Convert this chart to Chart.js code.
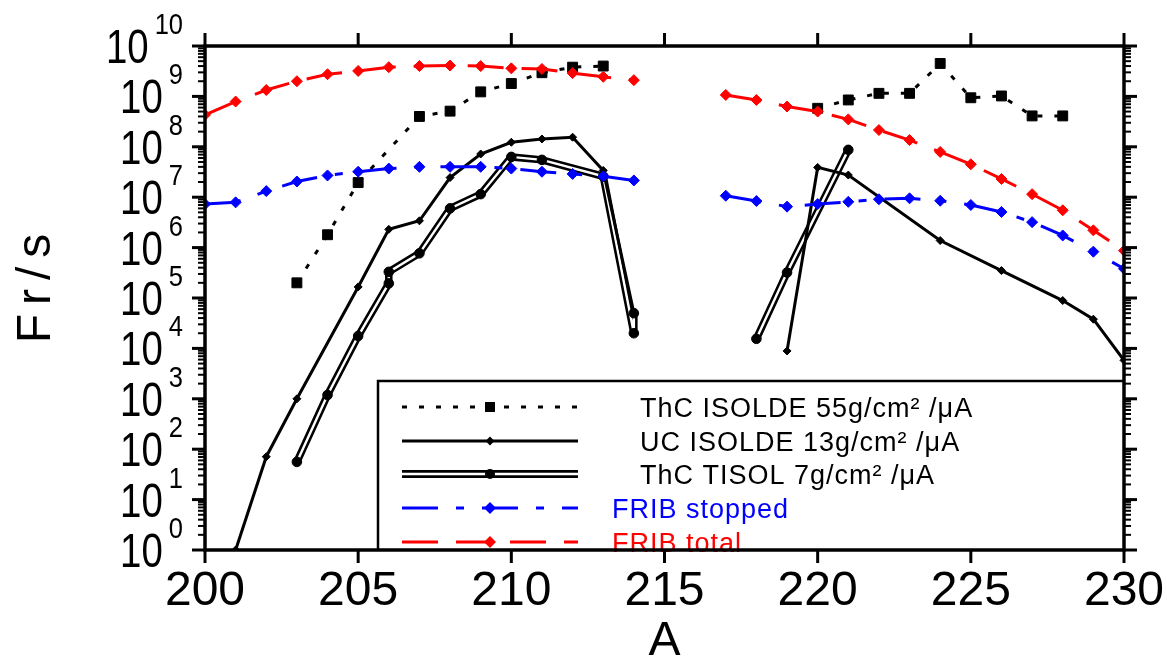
<!DOCTYPE html>
<html>
<head>
<meta charset="utf-8">
<script src="https://cdn.jsdelivr.net/npm/chart.js@4.4.0/dist/chart.umd.min.js"></script>
<style>
  html, body { margin: 0; padding: 0; background: #fff; }
  #wrap { width: 1167px; height: 656px; }
</style>
</head>
<body>
<div id="wrap"><canvas id="chart" width="1167" height="656"></canvas></div>
<script>
// ============================================================
//  Data (A = mass number, values in Fr/s)
// ============================================================
const thcIsoldeA1 = [203, 204, 205, 207, 208, 209, 210, 211, 212, 213];
const thcIsolde1  = [2.0e5, 1.8e6, 1.95e7, 4.0e8, 5.1e8, 1.23e9, 1.8e9, 2.95e9, 3.8e9, 4.0e9];
const thcIsoldeA2 = [220, 221, 222, 223, 224, 225, 226, 227, 228];
const thcIsolde2  = [5.8e8, 8.5e8, 1.15e9, 1.15e9, 4.5e9, 9.4e8, 1.02e9, 4.1e8, 4.1e8];

const ucIsoldeA1 = [201, 202, 203, 205, 206, 207, 208, 209, 210, 211, 212, 213, 214];
const ucIsolde1  = [1, 71, 1000, 1.66e5, 2.3e6, 3.4e6, 2.45e7, 7.2e7, 1.23e8, 1.43e8, 1.55e8, 3.4e7, 5.0e4];
const ucIsoldeA2 = [219, 220, 221, 224, 226, 228, 229, 230];
const ucIsolde2  = [8.9e3, 3.9e7, 2.75e7, 1.38e6, 3.5e5, 8.9e4, 3.8e4, 5.8e3];

const tisolA1 = [203, 204, 205, 206, 206, 207, 208, 209, 210, 211, 213, 214, 214];
const tisol1  = [56, 1190, 1.76e4, 1.95e5, 3.3e5, 7.7e5, 6.0e6, 1.15e7, 6.3e7, 5.5e7, 2.6e7, 2.0e4, 5.0e4];
const tisolA2 = [218, 219, 221];
const tisol2  = [1.55e4, 3.2e5, 8.7e7];

const fribA1       = [200, 201, 202, 203, 204, 205, 206, 207, 208, 209, 210, 211, 212, 213, 214];
const fribStopped1 = [7.3e6, 7.9e6, 1.32e7, 2.05e7, 2.7e7, 3.2e7, 3.7e7, 4.0e7, 4.0e7, 4.0e7, 3.7e7, 3.2e7, 2.9e7, 2.6e7, 2.15e7];
const fribTotal1   = [4.3e8, 7.9e8, 1.34e9, 2.0e9, 2.75e9, 3.2e9, 3.8e9, 4.0e9, 4.1e9, 4.0e9, 3.6e9, 3.5e9, 2.9e9, 2.45e9, 2.1e9];
const fribA2       = [217, 218, 219, 220, 221, 222, 223, 224, 225, 226, 227, 228, 229, 230];
const fribStopped2 = [1.07e7, 8.4e6, 6.5e6, 7.3e6, 8.1e6, 9.1e6, 9.5e6, 8.5e6, 7.0e6, 5.1e6, 3.2e6, 1.74e6, 8.3e5, 3.8e5];
const fribTotal2   = [1.07e9, 8.5e8, 6.3e8, 5.0e8, 3.5e8, 2.15e8, 1.36e8, 7.9e7, 4.5e7, 2.3e7, 1.15e7, 5.5e6, 2.2e6, 8.7e5];

const seriesNames = [
    'ThC ISOLDE 55g/cm\u00B2 /\u03BCA',
    'UC ISOLDE 13g/cm\u00B2 /\u03BCA',
    'ThC TISOL 7g/cm\u00B2 /\u03BCA',
    'FRIB stopped',
    'FRIB total'
];

const xTicks = [200, 205, 210, 215, 220, 225, 230];
const yExponents = [0, 1, 2, 3, 4, 5, 6, 7, 8, 9, 10];

const FONT = '"Liberation Sans", Arial, sans-serif';
const RED = '#ff0000';
const BLUE = '#0000ff';

// ============================================================
//  Helpers
// ============================================================
function pts(xs, ys) {
    return xs.map((a, i) => ({ x: a, y: ys[i] }));
}

function fribSet(data, color, dash) {
    return {
        data, borderColor: color, borderWidth: 3, borderDash: dash,
        pointStyle: 'rectRot', pointRadius: 5.5, pointBackgroundColor: color,
        pointBorderColor: color, pointBorderWidth: 1, order: color === RED ? 1 : 2
    };
}

function thcSet(data) {
    return {
        data, borderColor: '#000', borderWidth: 3, borderDash: [5, 12],
        pointStyle: 'rect', pointRadius: 7, pointBackgroundColor: '#000',
        pointBorderColor: '#000', pointBorderWidth: 1, order: 3
    };
}

function ucSet(data) {
    return {
        data, borderColor: '#000', borderWidth: 3,
        pointStyle: 'rectRot', pointRadius: 4, pointBackgroundColor: '#000',
        pointBorderColor: '#000', pointBorderWidth: 1, order: 4
    };
}

// double line = thick black + thin white + round markers
function tisolSets(data) {
    return [
        { data, borderColor: '#000', borderWidth: 7.5, pointRadius: 0, order: 7 },
        { data, borderColor: '#fff', borderWidth: 2.4, pointRadius: 0, order: 6 },
        { data, showLine: false, pointStyle: 'circle', pointRadius: 4.8,
          pointBackgroundColor: '#000', pointBorderColor: '#000', pointBorderWidth: 1, order: 5 }
    ];
}

function seg(ctx, x1, y1, x2, y2) {
    ctx.beginPath();
    ctx.moveTo(x1, y1);
    ctx.lineTo(x2, y2);
    ctx.stroke();
}

// ============================================================
//  Legend (IDL style box in the lower right)
// ============================================================
function drawLegend(ctx, a) {
    const bx = 378, by = 381;
    ctx.fillStyle = '#fff';
    ctx.fillRect(bx, by, a.right - bx, a.bottom - by);
    ctx.strokeStyle = '#000';
    ctx.lineWidth = 2.5;
    ctx.setLineDash([]);
    ctx.beginPath();
    ctx.moveTo(bx, a.bottom);
    ctx.lineTo(bx, by);
    ctx.lineTo(a.right, by);
    ctx.stroke();

    const rowsY = [407, 441, 474, 508, 542];
    const x1 = 402, x2 = 578, xm = 490;
    const textX = [640, 640, 640, 612, 612];
    const colors = ['#000', '#000', '#000', BLUE, RED];

    rowsY.forEach((y, i) => {
        ctx.strokeStyle = colors[i];
        ctx.fillStyle = colors[i];
        ctx.lineCap = 'butt';
        if (i === 0) { ctx.lineWidth = 3; ctx.setLineDash([5, 12]); seg(ctx, x1, y, x2, y); }
        if (i === 1) { ctx.lineWidth = 3; ctx.setLineDash([]); seg(ctx, x1, y, x2, y); }
        if (i === 2) {
            ctx.setLineDash([]);
            ctx.lineWidth = 8; seg(ctx, x1, y, x2, y);
            ctx.strokeStyle = '#fff'; ctx.lineWidth = 2.5; seg(ctx, x1, y, x2, y);
        }
        if (i === 3) { ctx.lineWidth = 3; ctx.setLineDash([36, 18, 8, 18]); seg(ctx, x1, y, x2, y); }
        if (i === 4) { ctx.lineWidth = 3; ctx.setLineDash([36, 18]); seg(ctx, x1, y, x2, y); }
        ctx.setLineDash([]);

        // marker
        ctx.beginPath();
        if (i === 0) {
            ctx.rect(xm - 5, y - 5, 10, 10);
        } else if (i === 2) {
            ctx.arc(xm, y, 5, 0, Math.PI * 2);
        } else {
            const r = i === 1 ? 4.5 : 6;
            ctx.moveTo(xm, y - r); ctx.lineTo(xm + r, y); ctx.lineTo(xm, y + r); ctx.lineTo(xm - r, y);
            ctx.closePath();
        }
        ctx.fill();

        ctx.font = '27px ' + FONT;
        ctx.textAlign = 'left';
        ctx.textBaseline = 'alphabetic';
        ctx.letterSpacing = '1px';
        ctx.fillText(seriesNames[i], textX[i], y + 10);
        ctx.letterSpacing = '0px';
    });
}

// ============================================================
//  Frame, ticks and labels drawn from the chart's own scales
// ============================================================
const framePlugin = {
    id: 'frame',
    afterDraw(chart) {
        const { ctx, chartArea: a, scales: { x, y } } = chart;
        ctx.save();
        drawLegend(ctx, a);

        ctx.strokeStyle = '#000';
        ctx.fillStyle = '#000';
        ctx.setLineDash([]);
        ctx.lineWidth = 3.5;
        ctx.strokeRect(a.left, a.top, a.right - a.left, a.bottom - a.top);

        // x major ticks (outside, top and bottom)
        ctx.lineWidth = 3;
        xTicks.forEach(v => {
            const px = x.getPixelForValue(v);
            seg(ctx, px, a.bottom, px, a.bottom + 13);
            seg(ctx, px, a.top, px, a.top - 13);
        });

        // y major + minor ticks (outside, left and right)
        yExponents.forEach(k => {
            const py = y.getPixelForValue(Math.pow(10, k));
            ctx.lineWidth = 3;
            seg(ctx, a.left, py, a.left - 13, py);
            seg(ctx, a.right, py, a.right + 13, py);
            if (k < 10) {
                ctx.lineWidth = 2;
                for (let m = 2; m <= 9; m++) {
                    const pm = y.getPixelForValue(m * Math.pow(10, k));
                    seg(ctx, a.left, pm, a.left - 7, pm);
                    seg(ctx, a.right, pm, a.right + 7, pm);
                }
            }
        });

        // x labels
        ctx.font = '48px ' + FONT;
        ctx.textAlign = 'center';
        ctx.textBaseline = 'alphabetic';
        xTicks.forEach(v => {
            ctx.fillText(String(v), x.getPixelForValue(v), a.bottom + 55);
        });

        // y labels: "10" with exponent above right
        const labRight = a.left - 22;
        yExponents.forEach(k => {
            const py = y.getPixelForValue(Math.pow(10, k));
            ctx.font = '30px ' + FONT;
            const sup = String(k);
            const sw = ctx.measureText(sup).width * 0.85;
            ctx.save();
            ctx.translate(labRight - sw, py - 12);
            ctx.scale(0.85, 1);
            ctx.textAlign = 'left';
            ctx.fillText(sup, 0, 0);
            ctx.restore();

            ctx.font = '48px ' + FONT;
            ctx.save();
            ctx.translate(labRight - sw - 6, py + 17);
            ctx.scale(0.8, 1);
            ctx.textAlign = 'right';
            ctx.fillText('10', 0, 0);
            ctx.restore();
        });

        // axis titles
        ctx.font = '48px ' + FONT;
        ctx.textAlign = 'center';
        ctx.fillText('A', (a.left + a.right) / 2, 655);

        ctx.save();
        ctx.translate(50, 288);
        ctx.rotate(-Math.PI / 2);
        ctx.letterSpacing = '9px';
        ctx.fillText('Fr/s', 4, 0);
        ctx.restore();

        ctx.restore();
    }
};

// ============================================================
//  Chart
// ============================================================
new Chart(document.getElementById('chart').getContext('2d'), {
    type: 'line',
    data: {
        datasets: [
            fribSet(pts(fribA1, fribTotal1), RED, [36, 18]),
            fribSet(pts(fribA2, fribTotal2), RED, [36, 18]),
            fribSet(pts(fribA1, fribStopped1), BLUE, [36, 18, 8, 18]),
            fribSet(pts(fribA2, fribStopped2), BLUE, [36, 18, 8, 18]),
            thcSet(pts(thcIsoldeA1, thcIsolde1)),
            thcSet(pts(thcIsoldeA2, thcIsolde2)),
            ucSet(pts(ucIsoldeA1, ucIsolde1)),
            ucSet(pts(ucIsoldeA2, ucIsolde2)),
            ...tisolSets(pts(tisolA1, tisol1)),
            ...tisolSets(pts(tisolA2, tisol2))
        ]
    },
    options: {
        responsive: false,
        animation: false,
        devicePixelRatio: 1,
        events: [],
        layout: { padding: { left: 205, right: 43, top: 46, bottom: 106 } },
        elements: { line: { tension: 0, fill: false } },
        plugins: { legend: { display: false }, tooltip: { enabled: false } },
        scales: {
            x: { type: 'linear', min: 200, max: 230, display: false },
            y: { type: 'logarithmic', min: 1, max: 1e10, display: false }
        }
    },
    plugins: [framePlugin]
});
</script>
</body>
</html>
